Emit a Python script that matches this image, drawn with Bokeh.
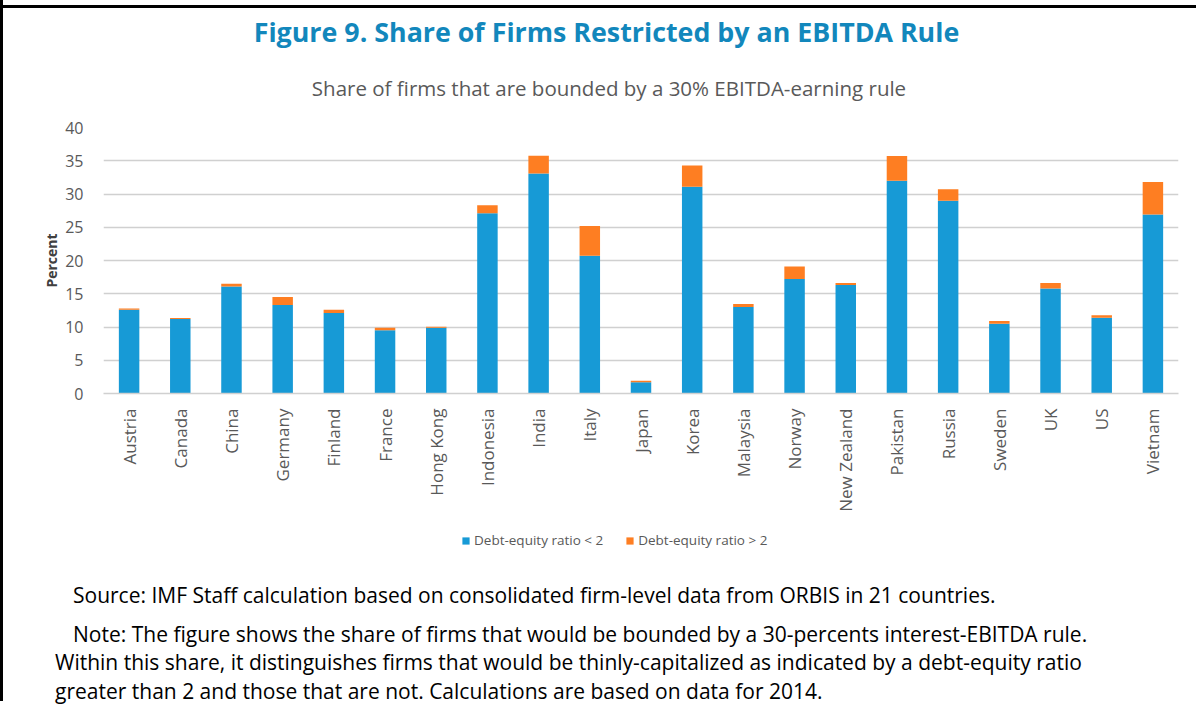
import math
from bokeh.plotting import figure
from bokeh.layouts import column
from bokeh.models import (ColumnDataSource, FactorRange, Range1d, Legend,
                          LegendItem, SingleIntervalTicker, Div)
from bokeh.embed import file_html
from bokeh.resources import INLINE

countries = ["Austria", "Canada", "China", "Germany", "Finland", "France", "Hong Kong",
             "Indonesia", "India", "Italy", "Japan", "Korea", "Malaysia", "Norway",
             "New Zealand", "Pakistan", "Russia", "Sweden", "UK", "US", "Vietnam"]
low_de = [12.6, 11.2, 16.1, 13.3, 12.1, 9.5, 9.9,
          27.1, 33.1, 20.7, 1.7, 31.1, 13.0, 17.2,
          16.3, 32.0, 29.0, 10.5, 15.8, 11.4, 26.9]
high_de = [0.2, 0.15, 0.4, 1.2, 0.5, 0.4, 0.15,
           1.2, 2.65, 4.5, 0.2, 3.2, 0.45, 1.9,
           0.3, 3.7, 1.7, 0.4, 0.8, 0.35, 4.9]
series_names = ["Debt-equity ratio < 2", "Debt-equity ratio > 2"]
series_colors = ["#179AD6", "#FE7E22"]

title_text = "Figure 9. Share of Firms Restricted by an EBITDA Rule"
subtitle_text = "Share of firms that are bounded by a 30% EBITDA-earning rule"
source_text = "Source: IMF Staff calculation based on consolidated firm-level data from ORBIS in 21 countries."
note_lines = [
    "Note: The figure shows the share of firms that would be bounded by a 30-percents interest-EBITDA rule.",
    "Within this share, it distinguishes firms that would be thinly-capitalized as indicated by a debt-equity ratio",
    "greater than 2 and those that are not. Calculations are based on data for 2014.",
]

FONT = "Open Sans"
W = 1180   # plus a 3px black left rule on the column

# ---------- top text block
base_css = "margin:0;white-space:nowrap;font-family:'Open Sans';"
top_html = (
    f'<div style="{base_css}height:3px;margin-top:0px;background:#000;width:{W + 16}px;margin-left:-8px"></div>'
    f'<div style="{base_css}margin-top:6px;height:36px;line-height:36px;padding-left:9px;'
    f'text-align:center;font-size:26.8px;font-weight:bold;color:#1287BC">{title_text}</div>'
    f'<div style="{base_css}margin-top:24px;height:28px;line-height:28px;padding-left:14px;'
    f'text-align:center;font-size:20.5px;color:#595959">{subtitle_text.replace("%", "&#37;")}</div>'
)
top = Div(text=top_html, width=W, height=102, styles={"overflow": "visible"})

# ---------- chart
src = ColumnDataSource(dict(country=countries, low=low_de, high=high_de))
p = figure(x_range=FactorRange(*countries, range_padding=0),
           y_range=Range1d(0, 40),
           width=W, height=406,
           output_backend="svg", toolbar_location=None,
           min_border_left=100, min_border_right=5,
           min_border_top=15, min_border_bottom=125)
p.outline_line_color = None
p.background_fill_color = "white"
p.border_fill_color = "white"

rs = p.vbar_stack(["low", "high"], x="country", width=0.4, source=src,
                  color=series_colors, line_color=None)

p.yaxis.ticker = SingleIntervalTicker(interval=5)
p.yaxis.axis_line_color = None
p.yaxis.major_tick_line_color = None
p.yaxis.minor_tick_line_color = None
p.yaxis.major_label_text_font = FONT
p.yaxis.major_label_text_font_size = "16px"
p.yaxis.major_label_text_color = "#595959"
p.yaxis.major_label_standoff = 14
p.yaxis.axis_label = "Percent"
p.yaxis.axis_label_text_font = FONT
p.yaxis.axis_label_text_font_size = "14px"
p.yaxis.axis_label_text_font_style = "bold"
p.yaxis.axis_label_text_color = "#404040"
p.yaxis.axis_label_standoff = 1

p.xaxis.axis_line_color = "#D0D0D0"
p.xaxis.axis_line_width = 1.5
p.xaxis.major_tick_line_color = None
p.xaxis.minor_tick_line_color = None
p.xaxis.major_label_orientation = math.pi / 2
p.xaxis.major_label_text_font = FONT
p.xaxis.major_label_text_font_size = "17px"
p.xaxis.major_label_text_color = "#595959"
p.xaxis.major_label_standoff = 9

p.xgrid.grid_line_color = None
p.ygrid.grid_line_color = "#D0D0D0"
p.ygrid.grid_line_width = 1.5

# ---------- legend strip (hidden copy of the same bars, used only for the legend)
lf = figure(width=W, height=40, x_range=FactorRange(*countries, range_padding=0),
            y_range=Range1d(0, 40),
            x_axis_type=None, y_axis_type=None,
            output_backend="svg", toolbar_location=None,
            min_border_left=100, min_border_right=5, min_border_top=0, min_border_bottom=0)
lf.outline_line_color = None
lf.grid.visible = False
lf.background_fill_color = "white"
lf.border_fill_color = "white"
swatches = lf.vbar_stack(["low", "high"], x="country", width=0.4, source=src,
                         color=series_colors, line_color=None)
for r in swatches:
    r.visible = False
legend = Legend(items=[LegendItem(label=series_names[i], renderers=[swatches[i]]) for i in range(2)],
                orientation="horizontal", location=(358, 9),
                glyph_width=9, glyph_height=9, label_standoff=4, spacing=22,
                padding=0, margin=0, label_height=14,
                label_text_font=FONT, label_text_font_size="13.5px",
                label_text_color="#595959",
                inactive_fill_alpha=0, click_policy="none",
                background_fill_alpha=0, border_line_color=None)
lf.add_layout(legend, "center")

# ---------- notes
line = "margin:0;white-space:nowrap;font-family:'Open Sans';font-size:21px;line-height:28.7px;height:28.7px;color:#000;"
bot_html = (
    f'<div style="padding-left:47px;padding-top:18px">'
    f'<div style="{line}text-indent:18px">{source_text}</div>'
    f'<div style="{line}text-indent:18px;margin-top:10px">{note_lines[0]}</div>'
    f'<div style="{line}">{note_lines[1]}</div>'
    f'<div style="{line}">{note_lines[2]}</div>'
    f'</div>'
)
bot = Div(text=bot_html, width=W, height=133, styles={"overflow": "visible"})

layout = column(top, p, lf, bot, spacing=0, styles={"border-left": "3px solid #000"})
open("out.html", "w").write(file_html(layout, INLINE))
